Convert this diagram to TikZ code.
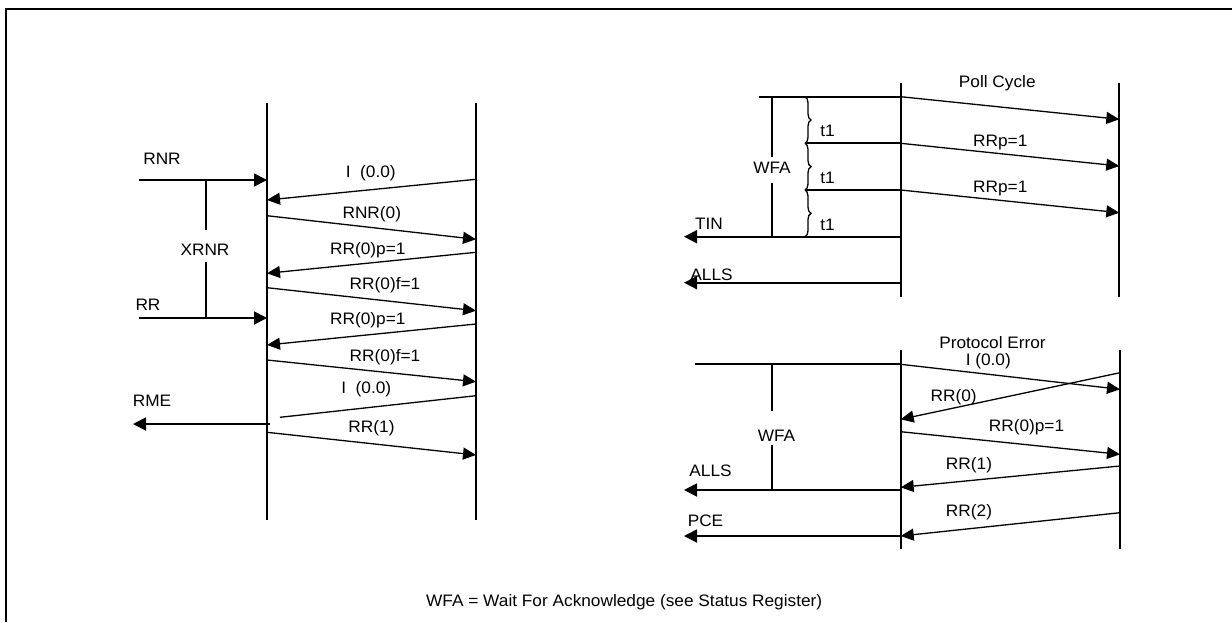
\documentclass[tikz,border=0pt]{standalone}
\usepackage{fontspec}
\setmainfont{Liberation Sans}[FakeStretch=1.04]
\usetikzlibrary{arrows.meta,decorations.pathreplacing}
\tikzset{
  life/.style={line width=1.8pt},
  hline/.style={line width=1.8pt},
  msg/.style={line width=1.3pt,-{Triangle[length=13pt,width=12pt]}},
  plain/.style={line width=1.3pt},
  harrow/.style={line width=1.8pt,-{Triangle[length=13pt,width=13pt]}},
  tbrace/.style={decorate,decoration={brace,amplitude=6pt},line width=1.3pt},
  lab/.style={anchor=base,inner sep=0pt,font=\fontsize{16.6}{18}\selectfont},
}
\begin{document}
\begin{tikzpicture}[x=1pt,y=-1pt]
\useasboundingbox (0,0) rectangle (1232,622);
% frame
\coordinate (fA) at (6,622);
\coordinate (fB) at (6,9);
\coordinate (fC) at (1232,9);
\draw[line width=1.3pt] (fA) -- (fB) -- (fC);

% ---------------- left diagram ----------------
\coordinate (La) at (267,103); \coordinate (Lb) at (267,520);
\coordinate (Ra) at (476,103); \coordinate (Rb) at (476,520);
\draw[life] (La) -- (Lb);
\draw[life] (Ra) -- (Rb);

\coordinate (rnrS) at (139,180); \coordinate (rnrE) at (267,180);
\draw[harrow] (rnrS) -- (rnrE);
\coordinate (rrS) at (139,318); \coordinate (rrE) at (267,318);
\draw[harrow] (rrS) -- (rrE);
\coordinate (xa) at (205.7,180); \coordinate (xb) at (205.7,230);
\coordinate (xc) at (205.7,262); \coordinate (xd) at (205.7,318);
\draw[hline] (xa) -- (xb);
\draw[hline] (xc) -- (xd);

\coordinate (m1s) at (476,179.3); \coordinate (m1e) at (267,200);
\coordinate (m2s) at (267,215.7); \coordinate (m2e) at (476,239.3);
\coordinate (m3s) at (476,252.3); \coordinate (m3e) at (267,273.3);
\coordinate (m4s) at (267,287.7); \coordinate (m4e) at (476,310.7);
\coordinate (m5s) at (476,324);   \coordinate (m5e) at (267,345);
\coordinate (m6s) at (267,360);   \coordinate (m6e) at (476,381.7);
\coordinate (m7s) at (476,395.7); \coordinate (m7e) at (280,417.3);
\coordinate (m8s) at (267,432.3); \coordinate (m8e) at (476,455);
\draw[msg] (m1s) -- (m1e);
\draw[msg] (m2s) -- (m2e);
\draw[msg] (m3s) -- (m3e);
\draw[msg] (m4s) -- (m4e);
\draw[msg] (m5s) -- (m5e);
\draw[msg] (m6s) -- (m6e);
\draw[plain] (m7s) -- (m7e);
\draw[msg] (m8s) -- (m8e);
\coordinate (rmeS) at (270,424); \coordinate (rmeE) at (133,424);
\draw[harrow] (rmeS) -- (rmeE);

\node[lab] (tRNR) at (162,164) {RNR};
\node[lab] (tXRNR) at (205,255) {XRNR};
\node[lab] (tRR) at (148,310) {RR};
\node[lab] (tRME) at (152,406.7) {RME};
\node[lab] (t1) at (370.8,177.3) {I~~(0.0)};
\node[lab] (t2) at (371.8,218.3) {RNR(0)};
\node[lab] (t3) at (367.8,254.3) {RR(0)p=1};
\node[lab] (t4) at (385,289.3) {RR(0)f=1};
\node[lab] (t5) at (367.8,324.3) {RR(0)p=1};
\node[lab] (t6) at (385,361.7) {RR(0)f=1};
\node[lab] (t7) at (366.3,393.3) {I~~(0.0)};
\node[lab] (t8) at (371.5,432.7) {RR(1)};

% ---------------- top right diagram ----------------
\coordinate (Pa) at (900.7,82.7); \coordinate (Pb) at (900.7,296.7);
\coordinate (Qa) at (1119.3,82.7); \coordinate (Qb) at (1119.3,296.7);
\draw[life] (Pa) -- (Pb);
\draw[life] (Qa) -- (Qb);
\coordinate (h0s) at (759.3,96.7); \coordinate (h0e) at (900.7,96.7);
\draw[hline] (h0s) -- (h0e);
\coordinate (w1a) at (771.7,96.7); \coordinate (w1b) at (771.7,156.7);
\coordinate (w1c) at (771.7,182.7); \coordinate (w1d) at (771.7,236.7);
\draw[hline] (w1a) -- (w1b);
\draw[hline] (w1c) -- (w1d);
\coordinate (b0) at (805,96.7); \coordinate (b1) at (805,143.3);
\coordinate (b2) at (805,190); \coordinate (b3) at (805,236.7);
\draw[tbrace] (b0) -- (b1);
\draw[tbrace] (b1) -- (b2);
\draw[tbrace] (b2) -- (b3);
\coordinate (h1e) at (900.7,143.3); \coordinate (h2e) at (900.7,190);
\draw[hline] (b1) -- (h1e);
\draw[hline] (b2) -- (h2e);
\coordinate (pc1) at (1119.3,119.3);
\coordinate (pc2) at (1119.3,166);
\coordinate (pc3) at (1119.3,212.7);
\draw[msg] (h0e) -- (pc1);
\draw[msg] (h1e) -- (pc2);
\draw[msg] (h2e) -- (pc3);
\coordinate (tinS) at (900.7,236.7); \coordinate (tinE) at (684,236.7);
\draw[harrow] (tinS) -- (tinE);
\coordinate (alS) at (900.7,282.7); \coordinate (alE) at (684,282.7);
\draw[harrow] (alS) -- (alE);

\node[lab] (tPoll) at (997.3,87.3) {Poll Cycle};
\node[lab] (tt1) at (827.5,136.7) {t1};
\node[lab] (tt2) at (827.5,183.3) {t1};
\node[lab] (tt3) at (827.5,230) {t1};
\node[lab] (tRp1) at (1000.3,146) {RRp=1};
\node[lab] (tRp2) at (1000.3,192.5) {RRp=1};
\node[lab] (tWFA1) at (772,173.3) {WFA};
\node[lab] (tTIN) at (709,229.3) {TIN};
\node[lab] (tALLS1) at (711.5,280) {ALLS};

% ---------------- bottom right diagram ----------------
\coordinate (Sa) at (900.7,350); \coordinate (Sb) at (900.7,549.3);
\coordinate (Ta) at (1120,350); \coordinate (Tb) at (1120,549.3);
\draw[life] (Sa) -- (Sb);
\draw[life] (Ta) -- (Tb);
\coordinate (g0s) at (695,364.3); \coordinate (g0e) at (900.7,364.3);
\draw[hline] (g0s) -- (g0e);
\coordinate (w2a) at (771.7,364.3); \coordinate (w2b) at (771.7,410.7);
\coordinate (w2c) at (771.7,445); \coordinate (w2d) at (771.7,490);
\draw[hline] (w2a) -- (w2b);
\draw[hline] (w2c) -- (w2d);
\coordinate (n1e) at (1120,389.3);
\coordinate (n2s) at (1120,372.7); \coordinate (n2e) at (900.7,419.3);
\coordinate (n3s) at (900.7,431.7); \coordinate (n3e) at (1120,454.3);
\coordinate (n4s) at (1120,466); \coordinate (n4e) at (900.7,487.3);
\coordinate (n5s) at (1120,512.7); \coordinate (n5e) at (900.7,536);
\draw[msg] (g0e) -- (n1e);
\draw[msg] (n2s) -- (n2e);
\draw[msg] (n3s) -- (n3e);
\draw[msg] (n4s) -- (n4e);
\draw[msg] (n5s) -- (n5e);
\coordinate (al2S) at (900.7,490); \coordinate (al2E) at (684,490);
\draw[harrow] (al2S) -- (al2E);
\coordinate (pceS) at (900.7,536); \coordinate (pceE) at (684,536);
\draw[harrow] (pceS) -- (pceE);

\node[lab] (tPE) at (992.5,348.3) {Protocol Error};
\node[lab] (tI3) at (988.3,365) {I (0.0)};
\node[lab] (tRR0) at (953.7,401.7) {RR(0)};
\node[lab] (tRR0p) at (1026.5,431) {RR(0)p=1};
\node[lab] (tWFA2) at (776.5,441.7) {WFA};
\node[lab] (tRR1) at (969,469.3) {RR(1)};
\node[lab] (tALLS2) at (710.5,476.7) {ALLS};
\node[lab] (tRR2) at (969,516) {RR(2)};
\node[lab] (tPCE) at (705.5,526.7) {PCE};

% footer
\node[lab] (foot) at (624.2,606) {WFA = Wait For Acknowledge (see Status Register)};
\end{tikzpicture}
\end{document}
